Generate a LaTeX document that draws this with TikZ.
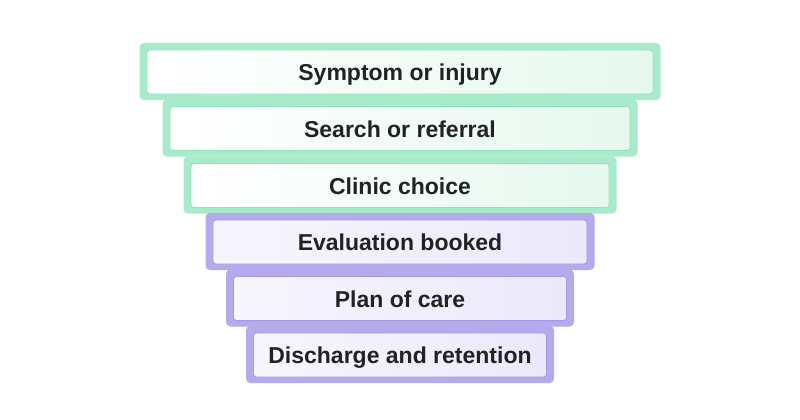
\documentclass[tikz,border=0pt]{standalone}
\usepackage{fontspec}
\setmainfont{Liberation Sans}
\definecolor{gout}{HTML}{A8EBCA}
\definecolor{gin}{HTML}{92E2BA}
\definecolor{gfill}{HTML}{E6F9EF}
\definecolor{pout}{HTML}{B6A9EC}
\definecolor{pin}{HTML}{A698E4}
\definecolor{pfill}{HTML}{ECE8FB}
\definecolor{txt}{HTML}{222226}
\begin{document}
\begin{tikzpicture}[x=1pt,y=-1pt,
  outerbox/.style={draw=#1,fill=#1,line width=1pt,rounded corners=4pt,minimum height=56pt,inner sep=0pt},
  labeltext/.style={minimum height=44pt,inner sep=0pt,text height=21pt,text depth=4pt,font=\bfseries\fontsize{23}{26}\selectfont,text=txt,line width=0.8pt,rounded corners=3pt},
  innerg/.style={labeltext,draw=gin,left color=white,right color=gfill},
  innerp/.style={labeltext,draw=pin,left color=white!60!pfill,right color=pfill}]
\useasboundingbox (0,0) rectangle (800,420);
\fill[white] (0,0) rectangle (800,420);
\node[outerbox=gout,minimum width=520pt] (o1) at (400,71.5) {};
\node[innerg,minimum width=506pt] (t1) at (400,72) {Symptom or injury};
\node[outerbox=gout,minimum width=474pt] (o2) at (400,128) {};
\node[innerg,minimum width=460pt] (t2) at (400,128.5) {Search or referral};
\node[outerbox=gout,minimum width=432pt] (o3) at (400,185) {};
\node[innerg,minimum width=418pt] (t3) at (400,185.5) {Clinic choice};
\node[outerbox=pout,minimum width=388pt] (o4) at (400,241.5) {};
\node[innerp,minimum width=374pt] (t4) at (400,242) {Evaluation booked};
\node[outerbox=pout,minimum width=347pt] (o5) at (400,298) {};
\node[innerp,minimum width=333pt] (t5) at (400,298.5) {Plan of care};
\node[outerbox=pout,minimum width=307pt] (o6) at (400,354.5) {};
\node[innerp,minimum width=293pt] (t6) at (400,355) {Discharge and retention};
\end{tikzpicture}
\end{document}
